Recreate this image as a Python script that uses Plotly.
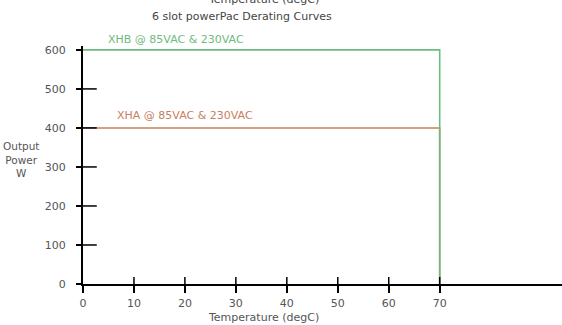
import plotly.graph_objects as go

# Data
temp_xhb = [0, 70, 70]
power_xhb = [600, 600, 0]
temp_xha = [0, 70, 70]
power_xha = [400, 400, 0]
x_ticks = [0, 10, 20, 30, 40, 50, 60, 70]
y_ticks = [0, 100, 200, 300, 400, 500, 600]
label_xhb = "XHB @ 85VAC & 230VAC"
label_xha = "XHA @ 85VAC & 230VAC"
title = "6 slot powerPac Derating Curves"

GREEN = "#6dbb7e"
RED = "#c8805f"
GRAY = "#555555"
FONT = "DejaVu Sans, Verdana, sans-serif"

fig = go.Figure()
fig.add_trace(go.Scatter(x=temp_xha, y=power_xha, mode="lines",
                         line=dict(color=RED, width=1.6), showlegend=False))
fig.add_trace(go.Scatter(x=temp_xhb, y=power_xhb, mode="lines",
                         line=dict(color=GREEN, width=1.6), showlegend=False))

shapes = []
for t in x_ticks[1:]:
    shapes.append(dict(type="line", xref="x", yref="y", x0=t, x1=t, y0=0, y1=18,
                       line=dict(color="black", width=1.5), layer="above"))
for v in y_ticks[1:-1]:
    shapes.append(dict(type="line", xref="x", yref="y", x0=0, x1=2.7, y0=v, y1=v,
                       line=dict(color="black", width=1.5), layer="above"))

fig.update_layout(
    width=562, height=325,
    margin=dict(l=83, r=0, t=46, b=41),
    plot_bgcolor="white", paper_bgcolor="white",
    font=dict(family=FONT, size=11, color=GRAY),
    shapes=shapes,
    xaxis=dict(range=[0, 94], tickvals=x_ticks, ticktext=[str(t) for t in x_ticks],
               showgrid=False, zeroline=False, showline=True, linecolor="black",
               linewidth=2, ticks="outside", ticklen=7, tickwidth=1.5,
               tickcolor="black", ticklabelstandoff=1, fixedrange=True),
    yaxis=dict(range=[0, 610], tickvals=y_ticks, showgrid=False, zeroline=False,
               showline=True, linecolor="black", linewidth=2, ticks="outside",
               ticklen=5, tickwidth=1.5, tickcolor="black", ticklabelstandoff=8,
               fixedrange=True),
    annotations=[
        dict(text=title, xref="paper", yref="paper", x=0.331, y=1, yshift=30,
             xanchor="center", yanchor="middle", showarrow=False,
             font=dict(size=11, color="#444444")),
        dict(text="Temperature (degC)", xref="paper", yref="paper", x=0.376, y=1,
             yshift=47, xanchor="center", yanchor="middle", showarrow=False,
             font=dict(size=11, color="#444444")),
        dict(text=label_xhb, x=temp_xhb[0], y=power_xhb[0], xshift=23, yshift=2,
             xanchor="left", yanchor="bottom", showarrow=False,
             font=dict(size=11, color=GREEN)),
        dict(text=label_xha, x=temp_xha[0], y=power_xha[0], xshift=32, yshift=4,
             xanchor="left", yanchor="bottom", showarrow=False,
             font=dict(size=11, color=RED)),
        dict(text="Output<br>Power<br>W", xref="paper", yref="paper", x=0, xshift=-62,
             y=0.525, xanchor="center", yanchor="middle", showarrow=False,
             font=dict(size=10.5, color=GRAY)),
        dict(text="Temperature (degC)", xref="paper", yref="paper", x=0.376, y=0,
             yshift=-33, xanchor="center", yanchor="middle", showarrow=False,
             font=dict(size=11, color=GRAY)),
    ],
)

fig.write_html("out.html")
